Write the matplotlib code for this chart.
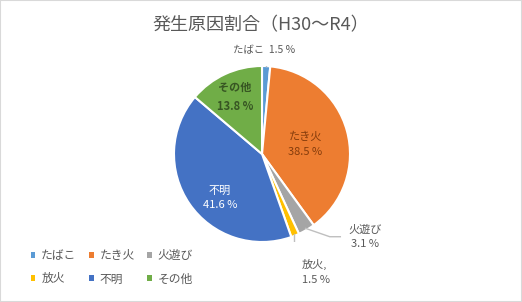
import numpy as np
import matplotlib.pyplot as plt
from matplotlib.patches import Rectangle

plt.rcParams['font.family'] = ['Noto Sans CJK JP', 'DejaVu Sans']

causes = ['たばこ', 'たき火', '火遊び', '放火', '不明', 'その他']
shares = [1.5, 38.5, 3.1, 1.5, 41.6, 13.8]
colors = ['#5B9BD5', '#ED7D31', '#A5A5A5', '#FFC000', '#4472C4', '#70AD47']

W, H = 522, 302
fig = plt.figure(figsize=(W / 100, H / 100), dpi=100)
fig.patches.append(Rectangle((0, 0), 1, 1, transform=fig.transFigure,
                             fill=False, edgecolor='#D9D9D9', linewidth=1.5))

fig.text(0.5, 1 - 25 / H, '発生原因割合（H30～R4）', ha='center', va='center',
         fontsize=13, color='#595959')

cx, cy, r = 262, 154, 88
ax = fig.add_axes([(cx - r) / W, (H - cy - r) / H, 2 * r / W, 2 * r / H])
wedges, _ = ax.pie(shares, colors=colors, startangle=90, counterclock=False,
                   wedgeprops=dict(edgecolor='white', linewidth=1.5))
ax.set_xlim(-1, 1)
ax.set_ylim(-1, 1)
ax.set_axis_off()

grey = '#595959'
line_c = '#BFBFBF'
# inside labels
ax.text(0.49, 0.11, f'たき火\n{shares[1]} %', ha='center', va='center',
        fontsize=8, color='#843C0C', linespacing=1.6)
ax.text(-0.48, -0.50, f'不明\n{shares[4]} %', ha='center', va='center',
        fontsize=8, color='white', linespacing=1.6)
ax.text(-0.31, 0.65, f'その他\n{shares[5]} %', ha='center', va='center',
        fontsize=8, color='#375623', linespacing=1.6, fontweight='bold')

# outside labels with leader lines
ax.plot([0.05, 0.05], [1.0, 1.1], color=line_c, lw=1)
ax.text(0.02, 1.12, f'{causes[0]}  {shares[0]} %', ha='center', va='bottom',
        fontsize=7.5, color=grey)

a = np.deg2rad(-59.6)
ax.plot([np.cos(a) * 0.98, 0.77, 0.89], [np.sin(a) * 0.98, -0.94, -0.94],
        color=line_c, lw=1)
ax.text(1.17, -0.94, f'{causes[2]}\n{shares[2]} %', ha='center', va='center',
        fontsize=8, color=grey, linespacing=1.6)

a = np.deg2rad(-67.9)
ax.plot([np.cos(a) * 0.98, np.cos(a) * 0.98], [np.sin(a) * 0.98, -1.25],
        color=line_c, lw=1)
ax.text(0.45, -1.34, f'{causes[3]},\n{shares[3]} %', ha='left', va='center',
        fontsize=8, color=grey, linespacing=1.6)

# legend filled row by row
order = [0, 3, 1, 4, 2, 5]
leg = fig.legend([wedges[i] for i in order], [causes[i] for i in order],
                 loc='lower left', bbox_to_anchor=(20 / W, 6 / H),
                 ncol=3, frameon=False, fontsize=8.5, handlelength=0.4,
                 handleheight=0.4, handletextpad=0.5, columnspacing=1.05,
                 labelspacing=0.9, labelcolor=grey)
for h in leg.legend_handles:
    h.set_edgecolor('none')

fig.savefig('out.png', dpi=100)
